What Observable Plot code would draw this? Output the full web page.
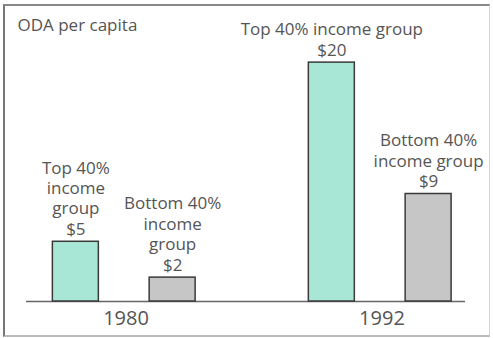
<!DOCTYPE html>
<html>
<head>
<meta charset="utf-8">
<script src="https://cdn.jsdelivr.net/npm/d3@7"></script>
<script src="https://cdn.jsdelivr.net/npm/@observablehq/plot@0.6"></script>
<style>
  html, body { margin: 0; padding: 0; background: #fff; }
  #wrap { position: relative; width: 493px; height: 338px; overflow: hidden; }
  #box { position: absolute; left: 3px; top: 4px; width: 484px; height: 329px;
         border-left: 2px solid #777; border-top: 2px solid #888;
         border-right: 1px solid #d4d4d4; border-bottom: 2px solid #bbb; pointer-events: none; }
  #chart svg { display: block; }
</style>
</head>
<body>
<div id="wrap"><div id="chart"></div><div id="box"></div></div>
<script>
// Data
const years = ["1980", "1980", "1992", "1992"];
const groups = ["Top 40%", "Bottom 40%", "Top 40%", "Bottom 40%"];
const values = [5, 2, 20, 9];
const groupLabels = [
  "Top 40%\nincome\ngroup",
  "Bottom 40%\nincome\ngroup",
  "Top 40% income group",
  "Bottom 40%\nincome group"
];
const yearDomain = ["1980", "1992"];
const groupDomain = ["Top 40%", "Bottom 40%"];
const groupColors = ["#a8e6d6", "#c6c6c6"];
const title = "ODA per capita";

const rows = values.map((v, i) => ({
  year: years[i],
  group: groups[i],
  value: v,
  label: groupLabels[i] + "\n$" + v
}));

const plot = Plot.plot({
  width: 493,
  height: 338,
  marginLeft: 26,
  marginRight: 28,
  marginTop: 0,
  marginBottom: 37,
  style: { fontFamily: "'Open Sans', sans-serif", color: "#555", background: "transparent" },
  fx: { domain: yearDomain, paddingInner: 0.285, paddingOuter: 0, round: false, axis: null, label: null },
  x: { domain: groupDomain, paddingInner: 0.525, paddingOuter: 0.208, align: 0.655, round: false, axis: null },
  y: { domain: [0, 25.2], axis: null },
  color: { domain: groupDomain, range: groupColors },
  marks: [
    Plot.ruleY([0], { fx: ["1980"], insetRight: -256, stroke: "#666", strokeWidth: 1.5 }),
    Plot.barY(rows, { fx: "year", x: "group", y: "value", fill: "group", stroke: "#3a3a3a", strokeWidth: 1.5 }),
    Plot.text(rows, { fx: "year", x: "group", y: "value", text: "label", lineAnchor: "bottom",
                      dy: -7, fontSize: 17, lineHeight: 1.2, fill: "#555" }),
    Plot.text(yearDomain, { fx: d => d, text: d => d, frameAnchor: "bottom", lineAnchor: "top",
                            dy: 9, dx: 8, fontSize: 20, fill: "#555" }),
    Plot.text([title], { fx: ["1980"], frameAnchor: "top-left", textAnchor: "start", lineAnchor: "bottom",
                         dx: -9, dy: 30, fontSize: 17, fill: "#555" })
  ]
});
document.getElementById("chart").appendChild(plot);
</script>
</body>
</html>
